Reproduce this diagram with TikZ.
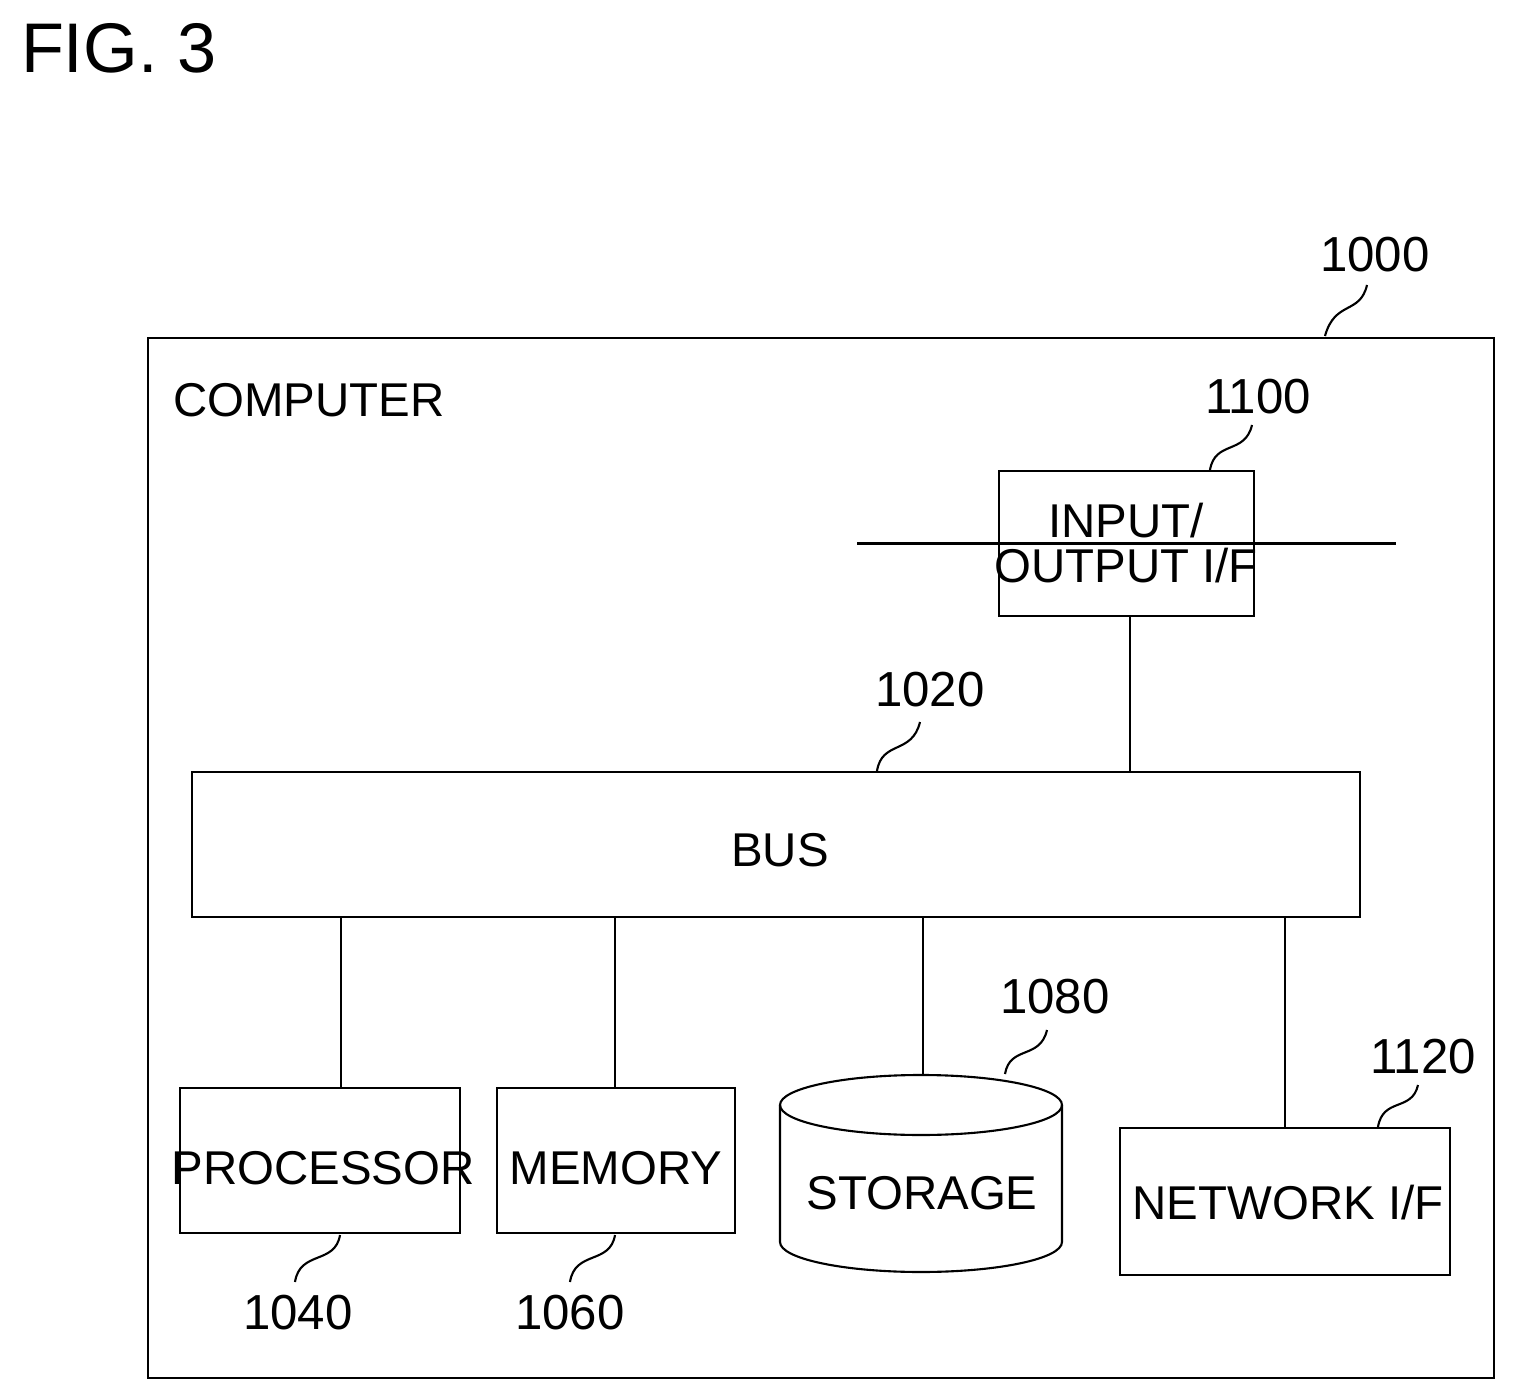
\documentclass[tikz,border=0pt]{standalone}
\usepackage{fontspec}
\setmainfont{Liberation Sans}
\usetikzlibrary{shapes.geometric}
\begin{document}
\begin{tikzpicture}[x=0.02cm,y=-0.02cm,line width=1.2pt,
  lbl/.style={font=\fontsize{27}{30}\selectfont,inner sep=0pt},
  num/.style={font=\fontsize{28}{30}\selectfont,inner sep=0pt},
  box/.style={draw,rectangle,inner sep=0pt}]
\useasboundingbox (0,0) rectangle (1516,1399);
\node[font=\fontsize{40}{44}\selectfont,anchor=west,inner sep=0pt] (fig) at (20,48) {FIG. 3};
% outer
\draw (148,338) rectangle (1494,1378);
\coordinate (outerc) at (1325,336);
\node[lbl,anchor=west] (comp) at (172,400) {COMPUTER};
\node[num] (n1000) at (1375,255) {1000};
\draw (outerc) .. controls (1335,300) and (1360,315) .. (1367,285);
% IO
\node[box,minimum width=255\pgflinewidth,text width=5cm,align=center] (io) at (1126.5,543.5) {};
\draw (999,471) rectangle (1254,616);
\node[lbl,align=center] (iot) at (1126,543) {INPUT/\\[-4pt]OUTPUT I/F};
\coordinate (ioT) at (1210,470);
\node[num] (n1100) at (1258,397) {1100};
\draw (ioT) .. controls (1215,440) and (1245,455) .. (1252,425);
% BUS
\draw (192,772) rectangle (1360,917);
\node[lbl] (bus) at (780,850) {BUS};
\node[num] (n1020) at (930,690) {1020};
\coordinate (busT) at (877,771);
\draw (busT) .. controls (882,740) and (912,755) .. (920,722);
\coordinate (ioB) at (1130,616); \coordinate (busIo) at (1130,772);
\draw (ioB) -- (busIo);
% Processor
\draw (180,1088) rectangle (460,1233);
\node[lbl] (proc) at (323,1168) {PROCESSOR};
\coordinate (b1) at (341,917); \coordinate (p1) at (341,1088);
\draw (b1) -- (p1);
\node[num] (n1040) at (298,1313) {1040};
\coordinate (procB) at (340,1235);
\draw (procB) .. controls (335,1265) and (300,1250) .. (295,1282);
% Memory
\draw (497,1088) rectangle (735,1233);
\node[lbl] (mem) at (616,1168) {MEMORY};
\coordinate (b2) at (615,917); \coordinate (p2) at (615,1088);
\draw (b2) -- (p2);
\node[num] (n1060) at (570,1313) {1060};
\coordinate (memB) at (615,1235);
\draw (memB) .. controls (610,1265) and (575,1250) .. (570,1282);
% Storage
\draw (780,1105) -- (780,1242) arc[start angle=180,end angle=360,x radius=141,y radius=-30] -- (1062,1105);
\draw (921,1105) ellipse[x radius=141,y radius=30];
\node[lbl] (stor) at (922,1193) {STORAGE};
\coordinate (b3) at (923,917); \coordinate (p3) at (923,1075);
\draw (b3) -- (p3);
\node[num] (n1080) at (1055,997) {1080};
\coordinate (storT) at (1005,1074);
\draw (storT) .. controls (1010,1045) and (1040,1060) .. (1047,1030);
% Network
\draw (1120,1128) rectangle (1450,1275);
\node[lbl] (net) at (1288,1203) {NETWORK I/F};
\coordinate (b4) at (1285,917); \coordinate (p4) at (1285,1128);
\draw (b4) -- (p4);
\node[num] (n1120) at (1423,1057) {1120};
\coordinate (netT) at (1378,1127);
\draw (netT) .. controls (1383,1097) and (1412,1112) .. (1418,1085);
\end{tikzpicture}
\end{document}
